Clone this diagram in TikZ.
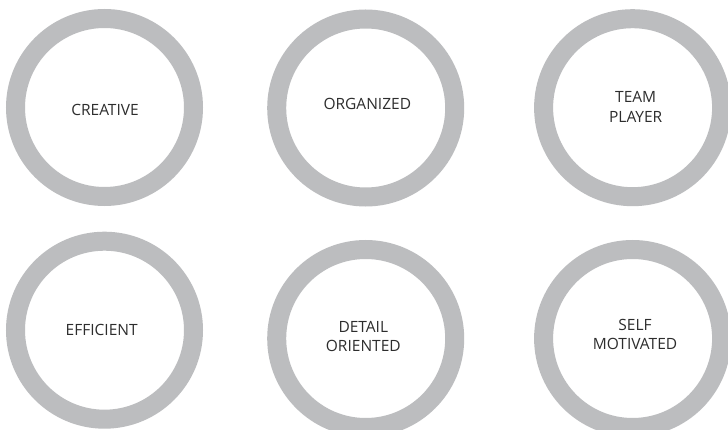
\documentclass[tikz,border=0pt]{standalone}
\usepackage{fontspec}
\setmainfont{Open Sans}
\definecolor{ringgray}{RGB}{188,189,191}
\definecolor{txtgray}{RGB}{45,45,45}
\begin{document}
\begin{tikzpicture}[x=1pt,y=1pt,
  ring/.style={circle,draw=ringgray,line width=19pt,minimum size=178pt,inner sep=0pt},
  lbl/.style={align=center,text=txtgray,font=\fontsize{15.5}{19.5}\selectfont,inner sep=0pt}]
\useasboundingbox (0,0) rectangle (728,429);
\clip (0,0) rectangle (728,429);
\fill[white] (0,0) rectangle (728,429);
\node[ring] (r1) at (104.5,321.5) {};
\node[ring] (r2) at (365.7,321) {};
\node[ring] (r3) at (632.6,321.3) {};
\node[ring] (r4) at (104.5,98.8) {};
\node[ring] (r5) at (365.7,90.5) {};
\node[ring] (r6) at (632.6,90.5) {};
\node[lbl] (t1) at (105,319) {CREATIVE};
\node[lbl] (t2) at (367.3,324.7) {ORGANIZED};
\node[lbl] (t3) at (635.7,322.3) {TEAM\\PLAYER};
\node[lbl] (t4) at (101.7,99) {EFFICIENT};
\node[lbl] (t5) at (363.3,92.7) {DETAIL\\ORIENTED};
\node[lbl] (t6) at (635,94.5) {SELF\\MOTIVATED};
\end{tikzpicture}
\end{document}
